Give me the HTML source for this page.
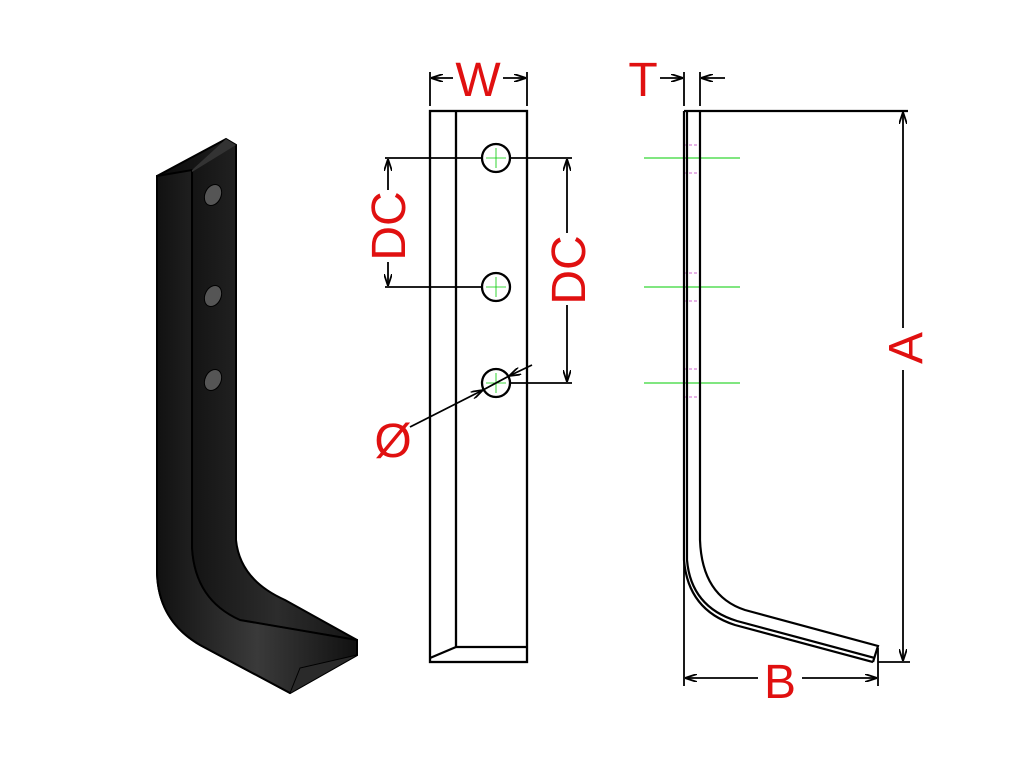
<!DOCTYPE html>
<html><head><style>
body{margin:0;background:#fff;}
svg{display:block;}
text{font-family:"Liberation Sans",sans-serif;fill:#e01010;font-size:48px;}
</style></head><body>
<svg width="1024" height="768" viewBox="0 0 1024 768" xmlns="http://www.w3.org/2000/svg">
<defs>
<marker id="ar" viewBox="0 0 12 8" refX="12" refY="4" markerWidth="12" markerHeight="8" orient="auto" markerUnits="userSpaceOnUse">
<path d="M0,0 L12,4 L0,8" fill="none" stroke="#000" stroke-width="1.8"/></marker>
<linearGradient id="g1" x1="0" x2="1"><stop offset="0" stop-color="#111"/><stop offset="0.5" stop-color="#3a3a3a"/><stop offset="1" stop-color="#111"/></linearGradient>
<linearGradient id="g2" x1="0" x2="1"><stop offset="0" stop-color="#0a0a0a"/><stop offset="0.6" stop-color="#2c2c2c"/><stop offset="1" stop-color="#151515"/></linearGradient>
</defs>

<!-- isometric part -->
<path d="M157,176 L226,139 L236,145 L236,540 Q240,580 285,600 L357,640 L357,655 L290,693 L200,645 Q157,620 157,570 Z" fill="url(#g2)" stroke="#000" stroke-width="2"/>
<path d="M157,176 L192,170 L192,548 Q195,600 240,620 L357,640 L357,655 L290,693 L200,645 Q157,620 157,570 Z" fill="url(#g1)" stroke="#000" stroke-width="2"/>
<path d="M192,170 L226,139 L236,145 L192,172 Z" fill="#333"/>
<path d="M192,548 Q195,600 240,620 L357,640" fill="none" stroke="#000" stroke-width="1.5"/>
<path d="M290,693 L300,668 L357,655" fill="#2a2a2a" stroke="#000" stroke-width="1"/>
<ellipse cx="213" cy="195" rx="8" ry="11" transform="rotate(25 213 195)" fill="#555" stroke="#000"/>
<ellipse cx="213" cy="296" rx="8" ry="11" transform="rotate(25 213 296)" fill="#555" stroke="#000"/>
<ellipse cx="213" cy="380" rx="8" ry="11" transform="rotate(25 213 380)" fill="#555" stroke="#000"/>

<!-- middle view -->
<g stroke="#000" stroke-width="2.3" fill="none">
<rect x="430" y="111" width="97" height="551"/>
<line x1="456" y1="111" x2="456" y2="647"/>
<line x1="456" y1="647" x2="527" y2="647"/>
<line x1="456" y1="647" x2="430" y2="658"/>
<circle cx="496" cy="158" r="14" fill="#fff"/>
<circle cx="496" cy="287" r="14" fill="#fff"/>
<circle cx="496" cy="383" r="14" fill="#fff"/>
<line x1="430" y1="72" x2="430" y2="106" stroke-width="1.8"/>
<line x1="527" y1="72" x2="527" y2="106" stroke-width="1.8"/>
<line x1="385" y1="158" x2="482" y2="158" stroke-width="1.8"/>
<line x1="510" y1="158" x2="572" y2="158" stroke-width="1.8"/>
<line x1="385" y1="287" x2="482" y2="287" stroke-width="1.8"/>
<line x1="510" y1="383" x2="572" y2="383" stroke-width="1.8"/>
</g>
<g stroke="#0c0" stroke-width="0.8">
<line x1="486" y1="158" x2="506" y2="158"/><line x1="496" y1="148" x2="496" y2="168"/>
<line x1="486" y1="287" x2="506" y2="287"/><line x1="496" y1="277" x2="496" y2="297"/>
<line x1="486" y1="383" x2="506" y2="383"/><line x1="496" y1="373" x2="496" y2="393"/>
</g>
<g stroke="#000" stroke-width="1.8" fill="none">
<line x1="453" y1="78" x2="431" y2="78" marker-end="url(#ar)"/>
<line x1="503" y1="78" x2="526" y2="78" marker-end="url(#ar)"/>
<line x1="388" y1="190" x2="388" y2="159" marker-end="url(#ar)"/>
<line x1="388" y1="262" x2="388" y2="286" marker-end="url(#ar)"/>
<line x1="567" y1="233" x2="567" y2="159" marker-end="url(#ar)"/>
<line x1="567" y1="305" x2="567" y2="382" marker-end="url(#ar)"/>
<line x1="410" y1="427" x2="483" y2="390" marker-end="url(#ar)"/>
<line x1="532" y1="365" x2="509" y2="376" marker-end="url(#ar)"/>
<line x1="483" y1="390" x2="509" y2="376"/>
</g>
<text x="478" y="96" text-anchor="middle">W</text>
<text transform="translate(405,226) rotate(-90)" text-anchor="middle">DC</text>
<text transform="translate(585,270) rotate(-90)" text-anchor="middle">DC</text>
<text x="393" y="457" text-anchor="middle">Ø</text>

<!-- side view -->
<g stroke="#0c0" stroke-width="1">
<line x1="644" y1="158" x2="740" y2="158"/>
<line x1="644" y1="287" x2="740" y2="287"/>
<line x1="644" y1="383" x2="740" y2="383"/>
</g>
<g stroke="#c6c" stroke-width="1" stroke-dasharray="3,2">
<line x1="684" y1="145" x2="700" y2="145"/><line x1="684" y1="173" x2="700" y2="173"/>
<line x1="684" y1="273" x2="700" y2="273"/><line x1="684" y1="301" x2="700" y2="301"/>
<line x1="684" y1="369" x2="700" y2="369"/><line x1="684" y1="397" x2="700" y2="397"/>
</g>
<g stroke="#000" stroke-width="2.2" fill="none">
<path d="M684,111 L684,560 Q688,610 735,625 L873,662"/>
<path d="M687,111 L687,560 Q691,607 737,621 L875,658"/>
<path d="M684,111 L908,111"/>
<path d="M700,111 L700,540 Q702,596 745,610 L878,646 L873,662"/>
<line x1="684" y1="72" x2="684" y2="106" stroke-width="1.8"/>
<line x1="700" y1="72" x2="700" y2="106" stroke-width="1.8"/>
<line x1="684" y1="560" x2="684" y2="686" stroke-width="1.8"/>
<line x1="878" y1="648" x2="878" y2="686" stroke-width="1.8"/>
<line x1="878" y1="662" x2="910" y2="662" stroke-width="1.8"/>
</g>
<g stroke="#000" stroke-width="1.8" fill="none">
<line x1="660" y1="78" x2="683" y2="78" marker-end="url(#ar)"/>
<line x1="725" y1="78" x2="701" y2="78" marker-end="url(#ar)"/>
<line x1="903" y1="328" x2="903" y2="112" marker-end="url(#ar)"/>
<line x1="903" y1="370" x2="903" y2="661" marker-end="url(#ar)"/>
<line x1="758" y1="678" x2="685" y2="678" marker-end="url(#ar)"/>
<line x1="802" y1="678" x2="877" y2="678" marker-end="url(#ar)"/>
</g>
<text x="643" y="96" text-anchor="middle">T</text>
<text transform="translate(922,348) rotate(-90)" text-anchor="middle">A</text>
<text x="780" y="698" text-anchor="middle">B</text>
</svg>
</body></html>
